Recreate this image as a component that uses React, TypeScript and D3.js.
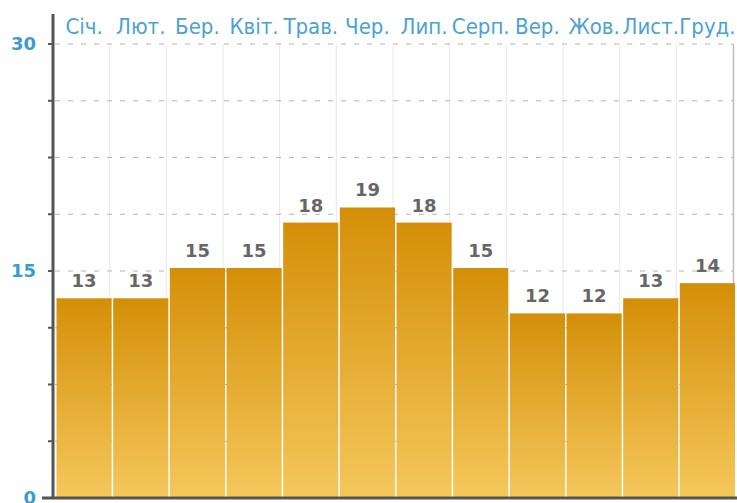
import React from "react";
import * as d3 from "d3";

// monthly values, Ukrainian short month names
const months = ["Січ.", "Лют.", "Бер.", "Квіт.", "Трав.", "Чер.", "Лип.", "Серп.", "Вер.", "Жов.", "Лист.", "Груд."];
const values = [13, 13, 15, 15, 18, 19, 18, 15, 12, 12, 13, 14];
const yLabels = [0, 15, 30];
const gridSteps = [3.75, 7.5, 11.25, 15, 18.75, 22.5, 26.25, 30];

const W = 737;
const H = 503;

const App = () => {
  const x = d3.scaleBand<string>().domain(months).range([53, 733]).padding(0);
  const y = d3.scaleLinear().domain([0, 30]).range([498, 44]);
  const bw = x.bandwidth();
  const shift = 3; // bars sit a little off the grid

  return (
    <svg width={W} height={H} style={{ position: "absolute", left: 0, top: 0, background: "#fff" }}>
      <defs>
        <linearGradient id="barGrad" x1="0" y1="0" x2="0" y2="1">
          <stop offset="0%" stopColor="#d48f08" />
          <stop offset="100%" stopColor="#f5c75b" />
        </linearGradient>
      </defs>

      {/* vertical grid */}
      {months.slice(1).map((m) => (
        <line key={m} x1={x(m)!} x2={x(m)!} y1={y(30)} y2={y(0)} stroke="#e8e8e8" strokeWidth={1} />
      ))}
      <line x1={733.5} x2={733.5} y1={y(30)} y2={y(0)} stroke="#bdbdbd" strokeWidth={1.5} />

      {/* dashed horizontal grid */}
      {gridSteps.map((g) => (
        <line key={g} x1={55} x2={733} y1={y(g)} y2={y(g)} stroke="#b5b5b5" strokeWidth={1} strokeDasharray="5,8" />
      ))}

      {/* bars */}
      {values.map((v, i) => {
        const bx = x(months[i])! + 3.5;
        const top = y(v) - shift;
        return (
          <rect key={i} x={bx} y={top} width={bw - 1.5} height={y(0) - top} fill="url(#barGrad)" />
        );
      })}

      {/* value labels */}
      {values.map((v, i) => (
        <text
          key={i}
          x={x(months[i])! + 3.5 + (bw - 1.5) / 2}
          y={y(v) - shift - 11}
          textAnchor="middle"
          fontFamily="DejaVu Sans"
          fontWeight="bold"
          fontSize={18}
          fill="#666"
        >
          {d3.format("d")(v)}
        </text>
      ))}

      {/* month labels on top */}
      {months.map((m) => (
        <text
          key={m}
          x={x(m)! + 3.5 + (bw - 1.5) / 2}
          y={34}
          textAnchor="middle"
          fontFamily="DejaVu Sans Condensed"
          fontSize={22}
          fill="#4ba2d4"
        >
          {m}
        </text>
      ))}

      {/* y axis */}
      <line x1={53} x2={53} y1={14} y2={y(0)} stroke="#555" strokeWidth={3} />
      {gridSteps.map((g) => (
        <line key={g} x1={48} x2={53} y1={y(g)} y2={y(g)} stroke="#555" strokeWidth={2} />
      ))}
      <line x1={42} x2={W} y1={y(0)} y2={y(0)} stroke="#555" strokeWidth={3} />

      {yLabels.map((t) => (
        <text
          key={t}
          x={36}
          y={y(t)}
          dy="0.36em"
          textAnchor="end"
          fontFamily="DejaVu Sans"
          fontWeight="bold"
          fontSize={18}
          fill="#3d9ad1"
        >
          {t}
        </text>
      ))}
    </svg>
  );
};

export default App;
